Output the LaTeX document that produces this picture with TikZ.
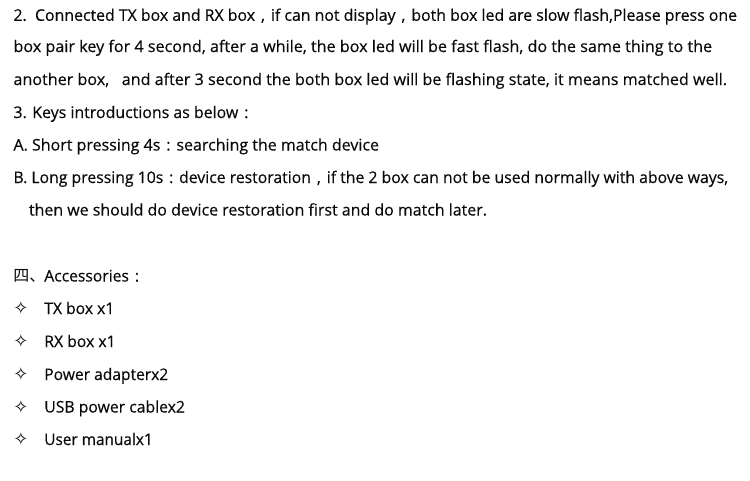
\documentclass[tikz,border=0pt]{standalone}
\usepackage{fontspec}
\usepackage{graphicx}
\setmainfont[FakeBold=0.35]{Open Sans}
\newfontfamily\cjk{Noto Sans CJK SC}
\newfontfamily\symf{DejaVu Sans}
\newcommand\fc{\makebox[1em][c]{,}}
\newcommand\fcol{\makebox[1em][c]{:}}
\newcommand\fitw[2]{\resizebox{#1pt}{\height}{#2}}
\definecolor{ink}{HTML}{0A0A0A}
\begin{document}
\begin{tikzpicture}[x=0.75pt,y=-0.75pt,
  txt/.style={anchor=base west, inner sep=0pt, outer sep=0pt, text=ink, font=\fontsize{12}{14}\selectfont},
  bul/.style={anchor=base, inner sep=0pt, outer sep=0pt, text=ink, font=\symf\fontsize{13.5}{15}\selectfont}]
\fill[white] (0,0) rectangle (750,480);
\useasboundingbox (0,0) rectangle (750,480);

\node[txt] (l1) at (13.5,20.8) {\fitw{542.6}{2.\ \ Connected TX box and RX box\fc if can not display\fc both box led are slow flash,Please press one}};
\node[txt] (l2) at (13.5,52) {\fitw{523.9}{box pair key for 4 second, after a while, the box led will be fast flash, do the same thing to the}};
\node[txt] (l3) at (13.5,85) {\fitw{535.1}{another box,\ \ \ and after 3 second the both box led will be flashing state, it means matched well.}};
\node[txt] (l4) at (13.5,118) {\fitw{168.6}{3. Keys introductions as below}\fcol};
\node[txt] (la) at (13.5,150.5) {\fitw{274.1}{A. Short pressing 4s\fcol searching the match device}};
\node[txt] (lb) at (13.5,183) {\fitw{535.9}{B. Long pressing 10s\fcol device restoration\fc if the 2 box can not be used normally with above ways,}};
\node[txt] (lc) at (29,215.5) {\fitw{343.5}{then we should do device restoration first and do match later.}};

\node[txt] (acc4) at (13.5,281.5) {{\cjk 四、}};
\node[txt] (acc) at (44.3,281.5) {\fitw{63.5}{Accessories}\fcol};

\node[bul] (b1) at (21,314.5) {✧};
\node[txt] (i1) at (44.3,314) {\fitw{52.5}{TX box x1}};
\node[bul] (b2) at (21,347.5) {✧};
\node[txt] (i2) at (44.3,347) {\fitw{53.5}{RX box x1}};
\node[bul] (b3) at (21,380.5) {✧};
\node[txt] (i3) at (44.3,380) {\fitw{93}{Power adapterx2}};
\node[bul] (b4) at (21,413) {✧};
\node[txt] (i4) at (44.3,412.5) {\fitw{105.5}{USB power cablex2}};
\node[bul] (b5) at (21,445.5) {✧};
\node[txt] (i5) at (44.3,445) {\fitw{81.3}{User manualx1}};
\end{tikzpicture}
\end{document}
